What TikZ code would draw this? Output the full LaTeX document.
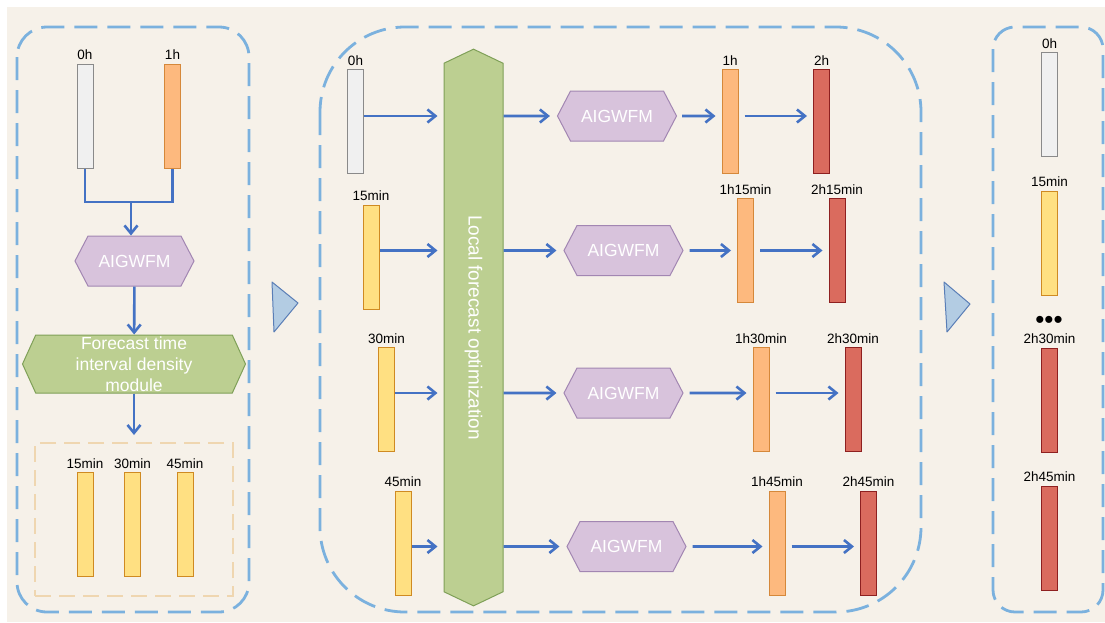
\documentclass[tikz,border=0pt]{standalone}
\usepackage{fontspec}
\setmainfont{Liberation Sans}
\usetikzlibrary{arrows.meta,shapes.symbols}
\definecolor{mybeige}{HTML}{F6F1E9}
\definecolor{mydash}{HTML}{7BB1DE}
\definecolor{mypool}{HTML}{EFD6B0}
\definecolor{myblue}{HTML}{4472C4}
\definecolor{mypurple}{HTML}{D8C3DC}
\definecolor{mypurpleline}{HTML}{A286B2}
\definecolor{mygreen}{HTML}{BCCF91}
\definecolor{mygreenline}{HTML}{7FA058}
\definecolor{mygrey}{HTML}{F0F0F0}
\definecolor{mygreyline}{HTML}{8A8A8A}
\definecolor{myorange}{HTML}{FDB97E}
\definecolor{myorangeline}{HTML}{D5883A}
\definecolor{myyellow}{HTML}{FFE082}
\definecolor{myyellowline}{HTML}{CF8A22}
\definecolor{myred}{HTML}{DA6B5E}
\definecolor{myredline}{HTML}{8E2020}
\definecolor{mytri}{HTML}{B3CCE3}
\definecolor{mytriline}{HTML}{5A7EB6}

\begin{document}
\begin{tikzpicture}[x=1pt,y=-1pt,
every node/.style={font=\fontsize{13.5}{16}\selectfont},
every label/.style={inner sep=3.5pt},
panel/.style={draw=mydash, line width=2.8pt, dash pattern=on 23pt off 10pt},
bar/.style={draw, line width=1pt, minimum width=16, minimum height=104, inner sep=0pt},
greybar/.style={bar, fill=mygrey, draw=mygreyline},
orangebar/.style={bar, fill=myorange, draw=myorangeline},
yellowbar/.style={bar, fill=myyellow, draw=myyellowline},
redbar/.style={bar, fill=myred, draw=myredline},
hexa/.style={signal, signal to=east and west, signal pointer angle=125, draw, line width=1pt,
  inner sep=0pt, text=white},
model/.style={hexa, fill=mypurple, draw=mypurpleline, minimum width=119, minimum height=50,
  font=\fontsize{17.5}{21}\selectfont},
link/.style={myblue, line width=2.2pt},
flow/.style={link, line width=2.6pt, -{Straight Barb[length=8pt,width=13pt]}, shorten >=6pt},
tri/.style={fill=mytri, draw=mytriline, line width=1pt, line join=round}]

\fill[mybeige] (7,7) rectangle (1105,622);
\useasboundingbox (0,0) rectangle (1105,622);

% left panel
\draw[panel, rounded corners=30] (17,27) rectangle (249,612);
\node[greybar, label=above:0h] (l0) at (85,116) {};
\node[orangebar, label=above:1h] (l1) at (172.5,116) {};
\coordinate (join) at (131,202);
\node[model] (aig0) at (134.5,261) {AIGWFM};
\node[hexa, fill=mygreen, draw=mygreenline, minimum width=223, minimum height=58, signal pointer angle=131,
  align=center, font=\fontsize{17.5}{21}\selectfont] (fti) at (134,364)
  {Forecast time\\interval density\\module};
\node[draw=mypool, line width=2pt, dash pattern=on 16pt off 8pt, minimum width=198, minimum height=153]
  (pool) at (134,519.5) {};
\node[yellowbar, label=above:15min] (l15) at (85,524.5) {};
\node[yellowbar, label=above:30min] (l30) at (132.5,524.5) {};
\node[yellowbar, label=above:45min] (l45) at (185,524.5) {};
\draw[link] (l0.south) |- (join) -| (l1.south);
\draw[flow, shorten >=0pt] (join) -- (join |- aig0.north);
\draw[flow, shorten >=0pt] (aig0) -- (fti);
\draw[flow, shorten >=7pt] (fti) -- (pool);

\draw[tri] (272,282) -- (298,303) -- (274,332) -- cycle;

% middle panel
\draw[panel, rounded corners=85] (320,27) rectangle (921,612);
\node[hexa, fill=mygreen, draw=mygreenline, signal to=north and south, signal pointer angle=129,
  minimum width=59, minimum height=537, font=\fontsize{19}{21}\selectfont] (lfo) at (473.5,327.5)
  {\rotatebox{-90}{Local forecast optimization}};
\node[greybar, label=above:0h] (m0) at (355.5,121.5) {};
\node[yellowbar, label=above:15min] (m15) at (371,257) {};
\node[yellowbar, label=above:30min] (m30) at (386.5,399.5) {};
\node[yellowbar, label=above:45min] (m45) at (403,543) {};
\node[model] (a1) at (617,116) {AIGWFM};
\node[model] (a2) at (623.5,250.5) {AIGWFM};
\node[model] (a3) at (623.5,393) {AIGWFM};
\node[model] (a4) at (626.5,546.5) {AIGWFM};
\node[orangebar, label=above:1h] (h1) at (730,121.5) {};
\node[redbar, label=above:2h] (h2) at (821.5,121.5) {};
\node[orangebar, label=above:1h15min] (h115) at (745.5,250.5) {};
\node[redbar, label=above:2h15min] (h215) at (837,250.5) {};
\node[orangebar, label=above:1h30min] (h130) at (761,399.5) {};
\node[redbar, label=above:2h30min] (h230) at (853,399.5) {};
\node[orangebar, label=above:1h45min] (h145) at (777,543) {};
\node[redbar, label=above:2h45min] (h245) at (868.5,543) {};

\draw[flow] (m0.east |- a1) -- (lfo.west |- a1);
\draw[flow] (m15.east |- a2) -- (lfo.west |- a2);
\draw[flow] (m30.east |- a3) -- (lfo.west |- a3);
\draw[flow] (m45.east |- a4) -- (lfo.west |- a4);
\draw[flow, shorten >=7pt] (lfo.east |- a1) -- (a1);
\draw[flow, shorten >=7pt] (lfo.east |- a2) -- (a2);
\draw[flow, shorten >=7pt] (lfo.east |- a3) -- (a3);
\draw[flow, shorten >=7pt] (lfo.east |- a4) -- (a4);
\draw[flow, shorten <=5pt] (a1) -- (h1.west |- a1);
\draw[flow, shorten <=6pt] (a2) -- (h115.west |- a2);
\draw[flow, shorten <=6pt] (a3) -- (h130.west |- a3);
\draw[flow, shorten <=6pt] (a4) -- (h145.west |- a4);
\draw[flow, shorten <=6pt] (h1.east |- a1) -- (h2.west |- a1);
\draw[flow, shorten <=6pt] (h115.east |- a2) -- (h215.west |- a2);
\draw[flow, shorten <=6pt] (h130.east |- a3) -- (h230.west |- a3);
\draw[flow, shorten <=6pt] (h145.east |- a4) -- (h245.west |- a4);

\draw[tri] (944,282) -- (970,304) -- (947,332) -- cycle;

% right panel
\draw[panel, rounded corners=22] (993,27) rectangle (1103,612);
\node[greybar, label=above:0h] (r0) at (1049.5,104.5) {};
\node[yellowbar, label=above:15min] (r15) at (1049.5,243) {};
\node (dots) at (1049,322) {\fontsize{26}{26}\selectfont\textbullet\textbullet\textbullet};
\node[redbar, label=above:2h30min] (r230) at (1049.5,400) {};
\node[redbar, label=above:2h45min] (r245) at (1049.5,538) {};
\end{tikzpicture}
\end{document}
